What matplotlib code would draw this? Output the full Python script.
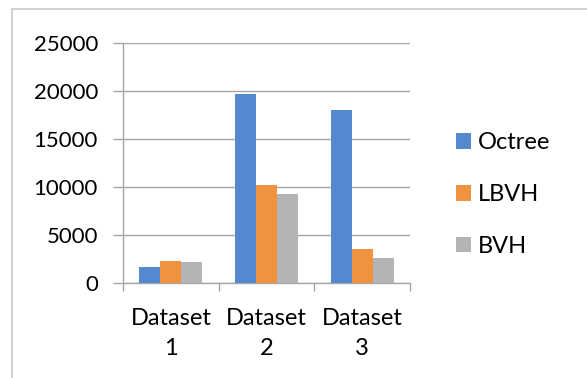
import numpy as np
import matplotlib
matplotlib.use("Agg")
import matplotlib.pyplot as plt
from matplotlib.patches import Rectangle

categories = ["Dataset\n1", "Dataset\n2", "Dataset\n3"]
series_names = ["Octree", "LBVH", "BVH"]
octree = [1700, 19650, 18050]
lbvh = [2300, 10150, 3500]
bvh = [2200, 9300, 2600]

colors = {
    "Octree": "#5589CF",
    "LBVH":   "#F19240",
    "BVH":    "#B4B4B4",
}
grid_col = "#A6A6A6"

plt.rcParams["font.family"] = ["Lato", "DejaVu Sans"]
fsize = 17

fig = plt.figure(figsize=(5.87, 3.78), dpi=100)
ax = fig.add_axes([0.2095, 0.2513, 0.489, 0.6357])

# light chart-area border
fig.patches.append(Rectangle((12 / 587, -0.1), 1.2, 1.1 - 9 / 378,
                             transform=fig.transFigure, fill=False,
                             edgecolor="#C8C8C8", lw=1.2))

x = np.arange(len(categories))
width = 0.22
for i, (name, vals) in enumerate(zip(series_names, [octree, lbvh, bvh])):
    ax.bar(x + (i - 1) * width, vals, width, color=colors[name],
           label=name, zorder=3)

ax.set_xlim(-0.5, len(categories) - 0.5)
ax.set_ylim(0, 25000)
ax.set_yticks(np.arange(0, 25001, 5000))
ax.yaxis.grid(True, color=grid_col, lw=1.0, zorder=0)

ax.set_xticks(x)
ax.set_xticklabels(categories, fontsize=fsize, linespacing=1.55)
ax.set_xticks(np.arange(-0.5, len(categories), 1.0), minor=True)
ax.tick_params(axis="x", which="major", length=0, pad=18)
ax.tick_params(axis="x", which="minor", length=5.5, color=grid_col, width=1.0)
ax.tick_params(axis="y", length=7, color=grid_col, width=1.0, pad=11,
               labelsize=16)

for s in ["top", "right"]:
    ax.spines[s].set_visible(False)
for s in ["left", "bottom"]:
    ax.spines[s].set_color(grid_col)
    ax.spines[s].set_linewidth(1.0)

ax.legend(loc="center left", bbox_to_anchor=(456 / 587, 1 - 194.5 / 378),
          bbox_transform=fig.transFigure, frameon=False, fontsize=fsize,
          handlelength=0.64, handleheight=0.64, handletextpad=0.27,
          labelspacing=1.3, borderpad=0, borderaxespad=0)

fig.savefig("out.png", dpi=100)
